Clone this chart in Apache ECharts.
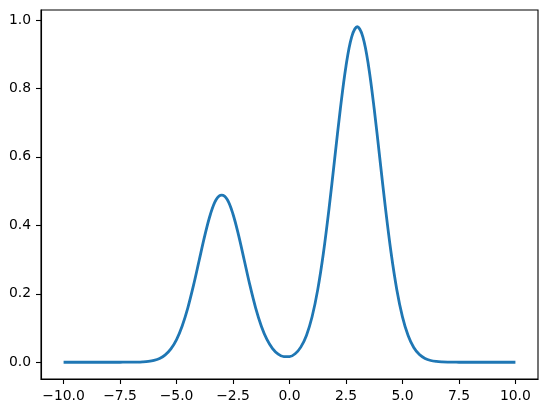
<!DOCTYPE html>
<html>
<head>
<meta charset="utf-8">
<script src="https://cdn.jsdelivr.net/npm/echarts@6/dist/echarts.min.js"></script>
<style>
html,body{margin:0;padding:0;background:#fff;}
#chart{width:547px;height:413px;}
</style>
</head>
<body>
<div id="chart"></div>
<script>
const xValues = [
  -10, -9.75, -9.5, -9.25, -9, -8.75, -8.5, -8.25, -8, -7.75,
  -7.5, -7.25, -7, -6.75, -6.5, -6.25, -6, -5.75, -5.5, -5.25,
  -5, -4.75, -4.5, -4.25, -4, -3.75, -3.5, -3.25, -3, -2.75,
  -2.5, -2.25, -2, -1.75, -1.5, -1.25, -1, -0.75, -0.5, -0.25,
  0, 0.25, 0.5, 0.75, 1, 1.25, 1.5, 1.75, 2, 2.25,
  2.5, 2.75, 3, 3.25, 3.5, 3.75, 4, 4.25, 4.5, 4.75,
  5, 5.25, 5.5, 5.75, 6, 6.25, 6.5, 6.75, 7, 7.25,
  7.5, 7.75, 8, 8.25, 8.5, 8.75, 9, 9.25, 9.5, 9.75, 10
];
const yValues = [
  0, 0, 0, 0, 0, 0, 0, 0, 0, 0,
  0, 0.0001, 0.0002, 0.0004, 0.0011, 0.0025, 0.0054, 0.0112, 0.0215, 0.0390,
  0.0663, 0.1060, 0.1591, 0.2243, 0.2972, 0.3699, 0.4324, 0.4749, 0.4880, 0.4749,
  0.4324, 0.3699, 0.2972, 0.2243, 0.1591, 0.1061, 0.0666, 0.0399, 0.0237, 0.0162,
  0.0163, 0.0248, 0.0441, 0.0784, 0.1328, 0.2121, 0.3182, 0.4486, 0.5944, 0.7397,
  0.8649, 0.9498, 0.9800, 0.9498, 0.8649, 0.7397, 0.5944, 0.4486, 0.3182, 0.2120,
  0.1326, 0.0780, 0.0430, 0.0223, 0.0109, 0.0050, 0.0022, 0.0009, 0.0003, 0.0001,
  0, 0, 0, 0, 0, 0, 0, 0, 0, 0, 0
];
const xTicks = [-10, -7.5, -5, -2.5, 0, 2.5, 5, 7.5, 10];
const yTicks = [0, 0.2, 0.4, 0.6, 0.8, 1.0];

const fmt = v => v.toFixed(1).replace('-', '\u2212');
const font = 'DejaVu Sans';

const chart = echarts.init(document.getElementById('chart'), null, {renderer: 'canvas'});
chart.setOption({
  animation: false,
  backgroundColor: '#fff',
  grid: {
    left: 41, right: 9, top: 10, bottom: 34,
    show: true, borderColor: '#000', borderWidth: 1.1, backgroundColor: 'transparent'
  },
  xAxis: {
    type: 'value', min: -11, max: 11,
    axisLine: {show: true, onZero: false, lineStyle: {color: '#000', width: 1.1}},
    axisTick: {show: true, inside: false, length: 5, customValues: xTicks, lineStyle: {color: '#000', width: 1.1}},
    axisLabel: {show: true, customValues: xTicks, margin: 10, formatter: fmt, color: '#000', fontFamily: font, fontSize: 13.9},
    splitLine: {show: false}
  },
  yAxis: {
    type: 'value', min: -0.049, max: 1.029,
    axisLine: {show: true, onZero: false, lineStyle: {color: '#000', width: 1.1}},
    axisTick: {show: true, inside: false, length: 5, customValues: yTicks, lineStyle: {color: '#000', width: 1.1}},
    axisLabel: {show: true, customValues: yTicks, margin: 10, formatter: fmt, color: '#000', fontFamily: font, fontSize: 13.9},
    splitLine: {show: false}
  },
  series: [{
    type: 'line',
    data: xValues.map((x, i) => [x, yValues[i]]),
    showSymbol: false,
    smooth: 0.35,
    lineStyle: {color: '#1f77b4', width: 2.8},
    itemStyle: {color: '#1f77b4'}
  }]
});
</script>
</body>
</html>
